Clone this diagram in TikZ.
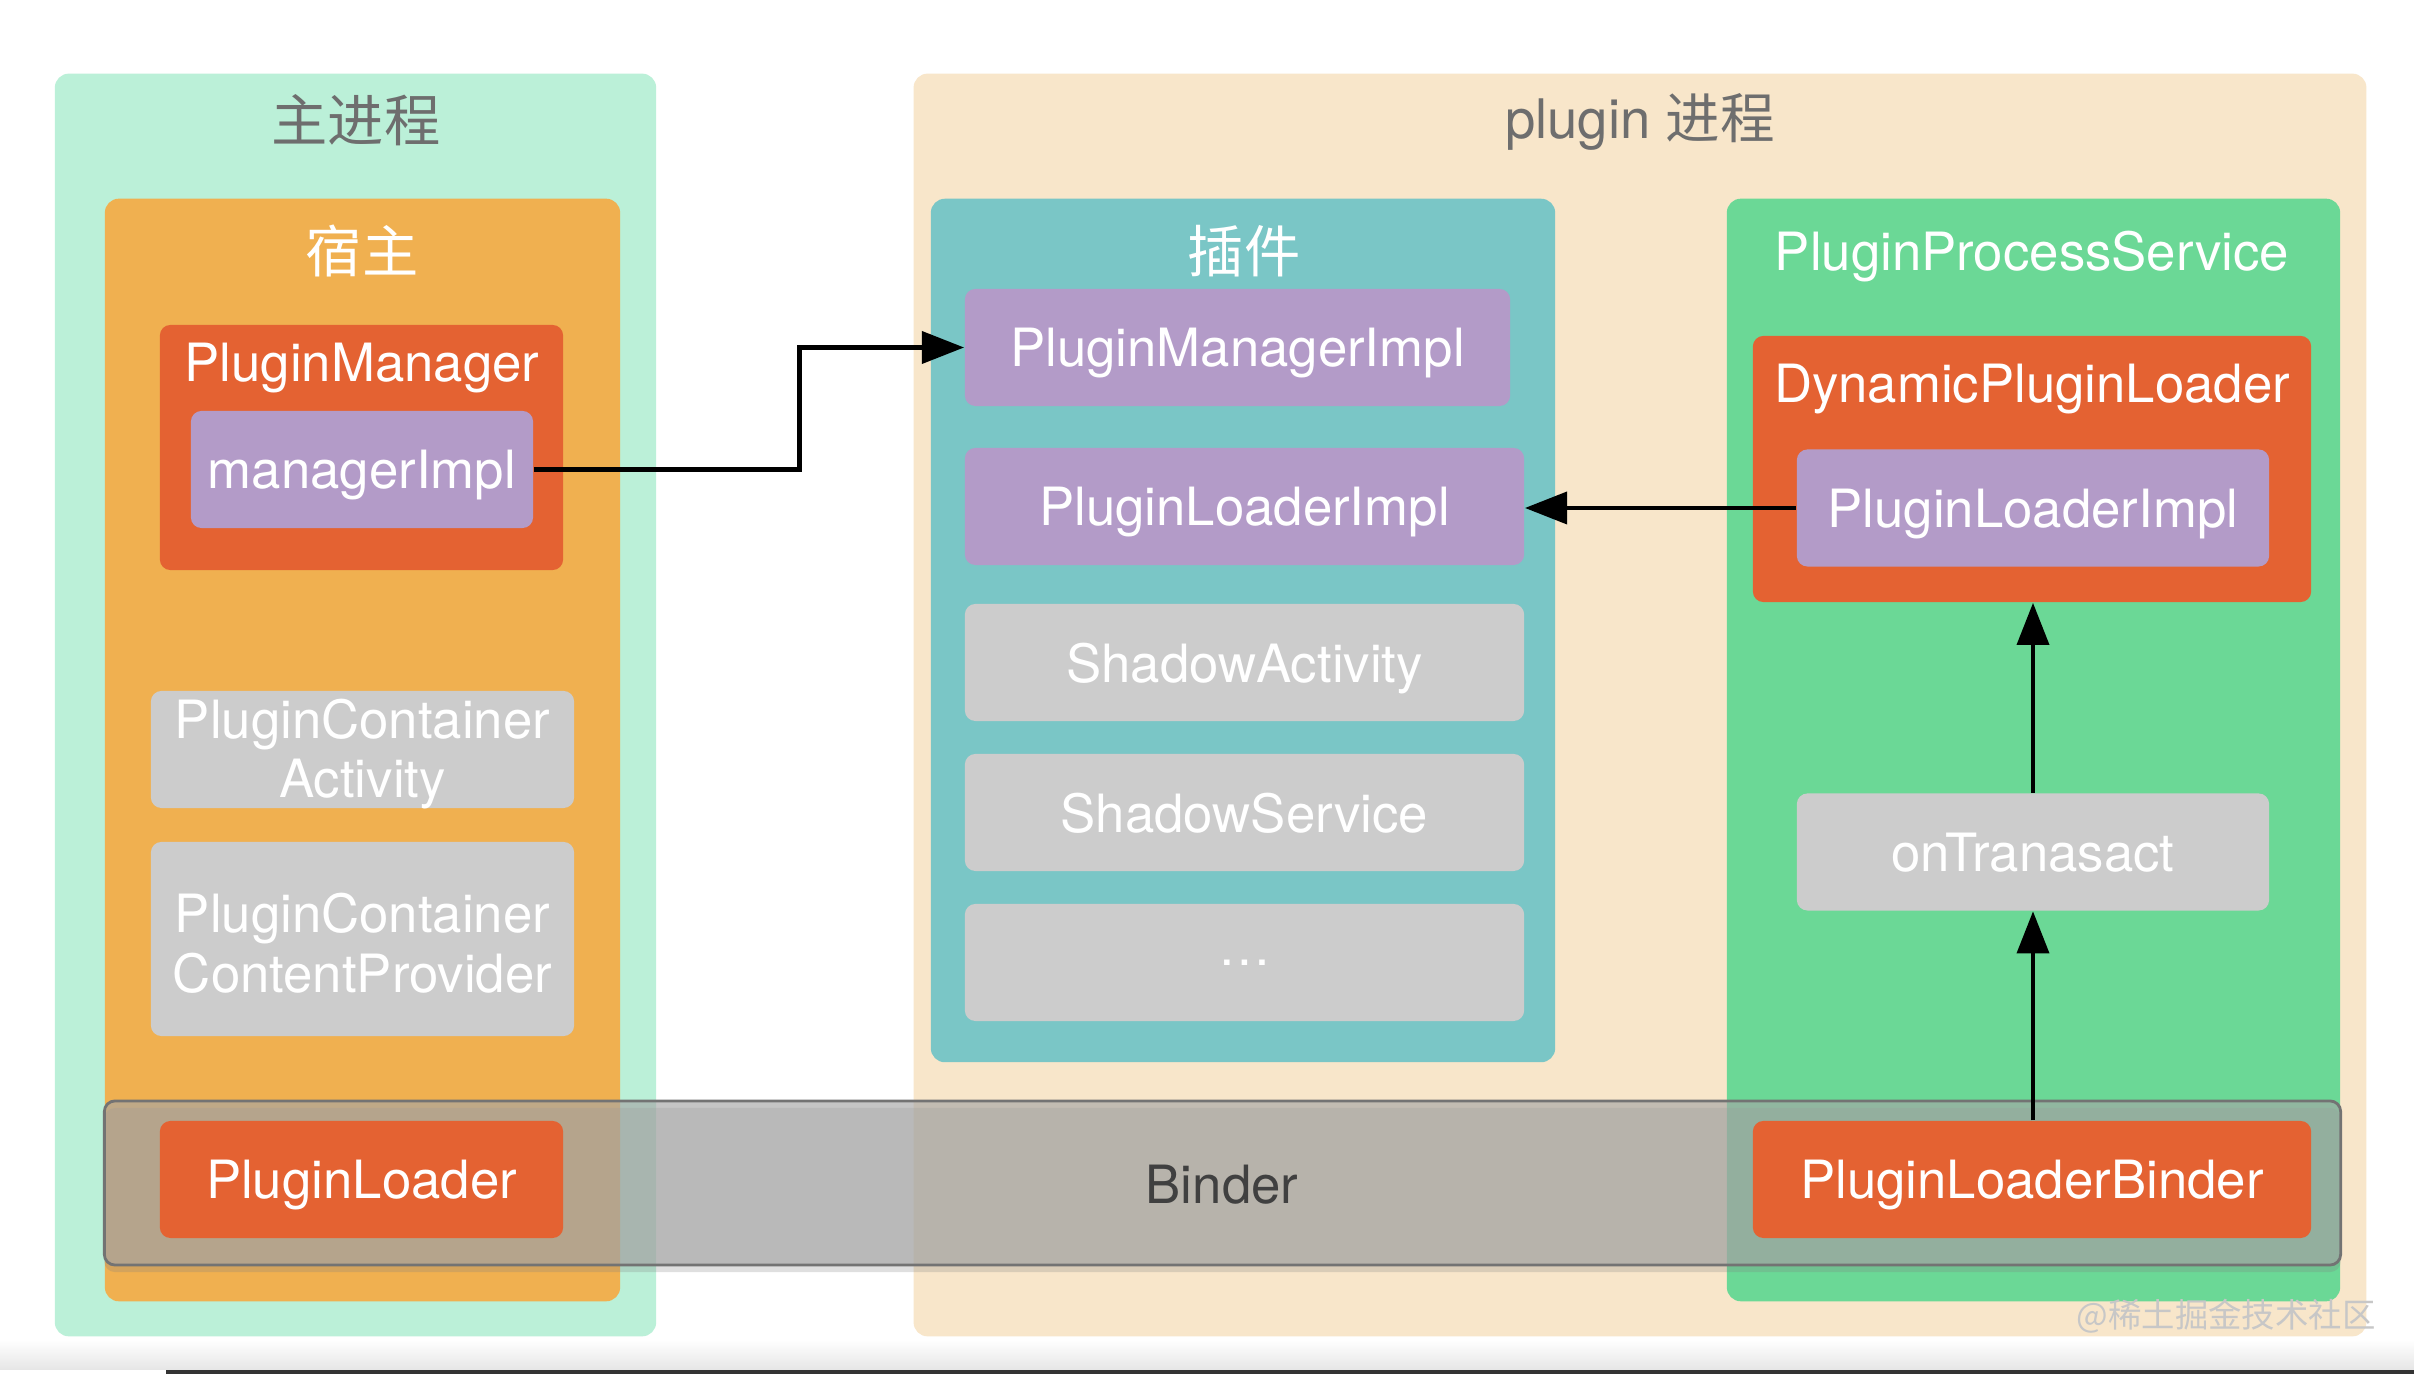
\documentclass[tikz,border=0pt]{standalone}
\usepackage{fontspec}
\setmainfont{TeX Gyre Heros}
\newfontfamily\cjk{Noto Sans CJK SC}
\usetikzlibrary{positioning,arrows.meta,shadows}

\definecolor{mintbg}{HTML}{BBF0D8}
\definecolor{hostorange}{HTML}{F0B050}
\definecolor{loaderred}{HTML}{E46232}
\definecolor{implpurple}{HTML}{B39BC8}
\definecolor{stubgray}{HTML}{CCCCCC}
\definecolor{peachbg}{HTML}{F8E6CA}
\definecolor{pluginteal}{HTML}{7AC6C6}
\definecolor{servicegreen}{HTML}{6BD896}
\definecolor{titlegray}{HTML}{6E6E6E}

\begin{document}
\begin{tikzpicture}[
        x=0.01cm, y=-0.01cm,
        every node/.style={font=\fontsize{15}{17}\selectfont},
        area/.style={rectangle, rounded corners=4pt, inner sep=0pt},
        box/.style={rectangle, rounded corners=3pt, inner sep=0pt, text=white, align=center},
        oneline/.style={text depth=0pt},
        headtext/.style={text=white},
        link/.style={-{Triangle[length=12pt,width=9pt]}, line width=1.4pt}
    ]
    \useasboundingbox (0,0) rectangle (2414,1374);
    \fill[white] (0,0) rectangle (2414,1374);

    % Processes
    \node[area, fill=mintbg, minimum width=6.01cm, minimum height=12.62cm] (mainproc) at (355.5,705) {};
    \node[area, fill=peachbg, minimum width=14.52cm, minimum height=12.62cm] (pluginproc) at (1640,705) {};
    \node[text=titlegray, font=\fontsize{16}{18}\selectfont\cjk] (maintitle) at (356,120) {主进程};
    \node[text=titlegray, font=\fontsize{15.5}{18}\selectfont] (plugintitle) at (1640,122) {plugin {\cjk 进程}};

    % Host side
    \node[area, fill=hostorange, minimum width=5.15cm, minimum height=11.02cm] (host) at (362.5,750) {};
    \node[headtext, font=\fontsize{16}{18}\selectfont\cjk] (hosttitle) at (362,251) {宿主};
    \node[box, fill=loaderred, minimum width=4.03cm, minimum height=2.45cm] (manager) at (361.5,447.5) {};
    \node[headtext, oneline] (managertitle) at (362,362) {PluginManager};
    \node[box, oneline, fill=implpurple, minimum width=3.42cm, minimum height=1.17cm] (mimpl) at (362,469.5) {managerImpl};
    \node[box, fill=stubgray, minimum width=4.23cm, minimum height=1.17cm] (pcactivity) at (362.5,749.5) {};
    \node[text=white, align=center] (pcactivitytext) at (362.5,754) {PluginContainer\\Activity};
    \node[box, fill=stubgray, minimum width=4.23cm, minimum height=1.94cm] (pcprovider) at (362.5,939) {};
    \node[text=white, align=center] (pcprovidertext) at (362.5,943.5) {PluginContainer\\ContentProvider};

    % Plugin side
    \node[area, fill=pluginteal, minimum width=6.24cm, minimum height=8.63cm] (plugin) at (1243,630.5) {};
    \node[headtext, font=\fontsize{16}{18}\selectfont\cjk] (plugintitle2) at (1244,251) {插件};
    \node[box, oneline, fill=implpurple, minimum width=5.45cm, minimum height=1.17cm] (pmimpl) at (1237.5,347.5) {PluginManagerImpl};
    \node[box, oneline, fill=implpurple, minimum width=5.59cm, minimum height=1.17cm] (plimpl) at (1244.5,506.5) {PluginLoaderImpl};
    \node[box, oneline, fill=stubgray, minimum width=5.59cm, minimum height=1.17cm] (sactivity) at (1244.5,662.5) {ShadowActivity};
    \node[box, oneline, fill=stubgray, minimum width=5.59cm, minimum height=1.17cm] (sservice) at (1244.5,812.5) {ShadowService};
    \node[box, fill=stubgray, minimum width=5.59cm, minimum height=1.17cm] (sdots) at (1244.5,962.5) {\dots};

    % Service
    \node[area, fill=servicegreen, minimum width=6.13cm, minimum height=11.02cm] (service) at (2033.5,750) {};
    \node[headtext, oneline] (servicetitle) at (2032,251) {PluginProcessService};
    \node[box, fill=loaderred, minimum width=5.58cm, minimum height=2.66cm] (dloader) at (2032,469) {};
    \node[headtext, oneline] (dloadertitle) at (2032,383) {DynamicPluginLoader};
    \node[box, oneline, fill=implpurple, minimum width=4.72cm, minimum height=1.17cm] (dlimpl) at (2033,508) {PluginLoaderImpl};
    \node[box, oneline, fill=stubgray, minimum width=4.72cm, minimum height=1.17cm] (transact) at (2033,852) {onTranasact};

    % Binder
    \node[box, fill=black!35, fill opacity=0.65, draw=black!55, line width=0.8pt,
          drop shadow={opacity=0.25, shadow xshift=0pt, shadow yshift=-2pt},
          minimum width=22.35cm, minimum height=1.64cm] (binder) at (1222.5,1183) {};
    \node[oneline, text=black!75] (bindertitle) at (1222,1184) {Binder};
    \node[box, oneline, fill=loaderred, minimum width=4.03cm, minimum height=1.17cm] (ploader) at (361.5,1179.5) {PluginLoader};
    \node[box, oneline, fill=loaderred, minimum width=5.58cm, minimum height=1.17cm] (plbinder) at (2032,1179.5) {PluginLoaderBinder};

    % Calls
    \draw[link] (mimpl.east) -- ++(266,0) |- (pmimpl.west);
    \draw[link] (dlimpl.west) -- (dlimpl.west -| plimpl.east);
    \draw[link] (plbinder.north -| transact.south) -- (transact.south);
    \draw[link] (transact.north) -- (transact.north |- dloader.south);

    % Watermark and screen edge
    \node[text=black!22, font=\fontsize{9.5}{12}\selectfont\cjk, anchor=east] (mark) at (2388,1316) {@稀土掘金技术社区};
    \fill[top color=white, bottom color=black!10] (0,1340) rectangle (2414,1370);
    \fill[black!80] (166,1370) rectangle (2414,1374);
\end{tikzpicture}
\end{document}
